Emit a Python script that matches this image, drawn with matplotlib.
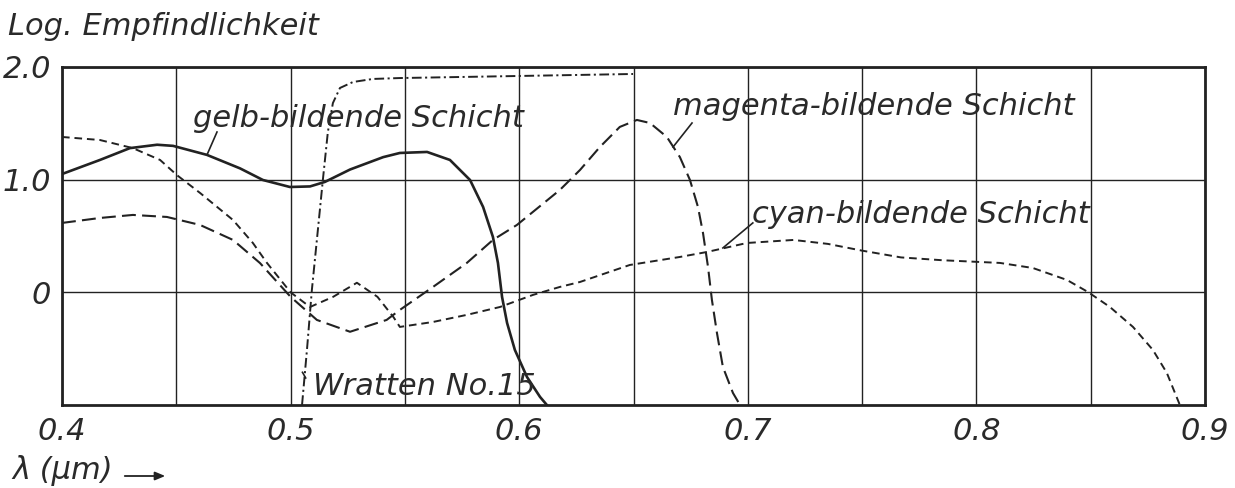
import matplotlib
matplotlib.use('Agg')
import matplotlib.pyplot as plt
import numpy as np

# wavelength (um) / log sensitivity
gelb_x = [0.4, 0.4166, 0.4297, 0.4416, 0.4486, 0.4634, 0.4779, 0.4879, 0.4997, 0.5085,
          0.515, 0.526, 0.5405, 0.5478, 0.5597, 0.5697, 0.5785, 0.5842, 0.5885, 0.5907,
          0.5925, 0.5947, 0.5981, 0.6034, 0.6091, 0.6121]
gelb_y = [1.05, 1.175, 1.28, 1.31, 1.30, 1.22, 1.10, 0.997, 0.935, 0.94,
          0.98, 1.09, 1.2, 1.237, 1.246, 1.175, 0.997, 0.758, 0.492, 0.261,
          -0.041, -0.272, -0.511, -0.751, -0.928, -1.0]

magenta_x = [0.4, 0.4166, 0.431, 0.4459, 0.4604, 0.4748, 0.4866, 0.5, 0.5115, 0.526,
             0.542, 0.5478, 0.5623, 0.5771, 0.5885, 0.599, 0.6178, 0.6266, 0.6353, 0.644,
             0.6515, 0.6572, 0.6646, 0.6703, 0.6747, 0.6782, 0.6804, 0.6826, 0.6843, 0.6865,
             0.6891, 0.6935, 0.6966]
magenta_y = [0.616, 0.66, 0.687, 0.669, 0.598, 0.465, 0.26, -0.04, -0.245, -0.35,
             -0.245, -0.156, 0.048, 0.261, 0.465, 0.598, 0.909, 1.086, 1.29, 1.468,
             1.53, 1.503, 1.379, 1.2, 0.997, 0.758, 0.527, 0.225, -0.067, -0.36,
             -0.662, -0.893, -1.0]

cyan_x = [0.4, 0.4166, 0.431, 0.4429, 0.4503, 0.4604, 0.4748, 0.4835, 0.4897, 0.5, 0.5085,
          0.5186, 0.529, 0.538, 0.545, 0.5478, 0.5623, 0.5771, 0.5916, 0.606, 0.6178,
          0.6266, 0.6484, 0.6703, 0.6821, 0.6996, 0.72, 0.735, 0.75, 0.767, 0.785,
          0.8103, 0.8247, 0.8396, 0.8488, 0.8584, 0.8685, 0.8772, 0.8833, 0.889]
cyan_y = [1.379, 1.352, 1.28, 1.175, 1.04, 0.882, 0.642, 0.438, 0.26, 0.0, -0.13,
          -0.04, 0.085, -0.04, -0.22, -0.307, -0.263, -0.2, -0.13, -0.023, 0.048,
          0.092, 0.243, 0.314, 0.358, 0.438, 0.465, 0.43, 0.37, 0.31, 0.285,
          0.261, 0.216, 0.11, 0.003, -0.13, -0.307, -0.511, -0.715, -1.0]

wratten_x = [0.505, 0.5072, 0.5093, 0.5142, 0.5163, 0.5185, 0.5216, 0.5273, 0.536, 0.5478,
             0.599, 0.6498]
wratten_y = [-1.0, -0.5, 0.02, 1.015, 1.423, 1.68, 1.814, 1.867, 1.894, 1.902,
             1.92, 1.938]

xticks = [0.4, 0.5, 0.6, 0.7, 0.8, 0.9]
xtick_labels = ['0.4', '0.5', '0.6', '0.7', '0.8', '0.9']
yticks = [0, 1.0, 2.0]
ytick_labels = ['0', '1.0', '2.0']

plt.rcParams['lines.scale_dashes'] = False
ink = '#222222'
fs = 22
font = dict(family='DejaVu Sans', style='italic', fontsize=fs, color='#2a2a2a')

fig = plt.figure(figsize=(12.35, 4.88), dpi=100)
W, H = 1235, 488
ax = fig.add_axes([62 / W, 1 - 405 / H, (1205 - 62) / W, (405 - 67) / H])
ax.set_xlim(0.4, 0.9)
ax.set_ylim(-1.0, 2.0)

ax.set_xticks(xticks)
ax.set_xticklabels(xtick_labels, **font)
ax.set_xticks(np.arange(0.45, 0.9, 0.1), minor=True)
ax.set_yticks(yticks)
ax.set_yticklabels(ytick_labels, **font)
ax.tick_params(which='both', length=0)
ax.tick_params(axis='x', pad=9)
ax.tick_params(axis='y', pad=8)
ax.grid(which='both', color=ink, lw=1.0)
ax.set_axisbelow(True)
for s in ax.spines.values():
    s.set_linewidth(2.0)
    s.set_color(ink)

ax.plot(gelb_x, gelb_y, color=ink, lw=1.9)
ax.plot(magenta_x, magenta_y, color=ink, lw=1.5, dashes=(10, 4.5))
ax.plot(cyan_x, cyan_y, color=ink, lw=1.4, dashes=(5.5, 3.5))
ax.plot(wratten_x, wratten_y, color=ink, lw=1.4, dashes=(7, 2.5, 1.5, 2.5))

# curve labels with leader lines
ax.text(0.4573, 1.468, 'gelb-bildende Schicht', va='baseline', **font)
ax.plot([0.4678, 0.4634], [1.423, 1.219], color=ink, lw=1.2)
ax.text(0.6673, 1.574, 'magenta-bildende Schicht', va='baseline', **font)
ax.plot([0.6756, 0.6673], [1.503, 1.29], color=ink, lw=1.2)
ax.text(0.7018, 0.616, 'cyan-bildende Schicht', va='baseline', **font)
ax.plot([0.7022, 0.6891], [0.616, 0.394], color=ink, lw=1.2)
ax.text(0.5098, -0.91, 'Wratten No.15', va='baseline', **font)
ax.plot([0.5052, 0.5066], [-0.71, -0.76], color=ink, lw=1.2)

fig.text(8 / W, 1 - 35 / H, 'Log. Empfindlichkeit', va='baseline', **font)
fig.text(12 / W, 1 - 479 / H, 'λ (μm)', va='baseline', **font)
fig.patches.append(matplotlib.patches.FancyArrowPatch(
    (122 / W, 1 - 476 / H), (168 / W, 1 - 476 / H), transform=fig.transFigure,
    arrowstyle='-|>,head_length=6,head_width=2.5', color=ink, lw=1.3))

fig.savefig('out.png', dpi=100)
